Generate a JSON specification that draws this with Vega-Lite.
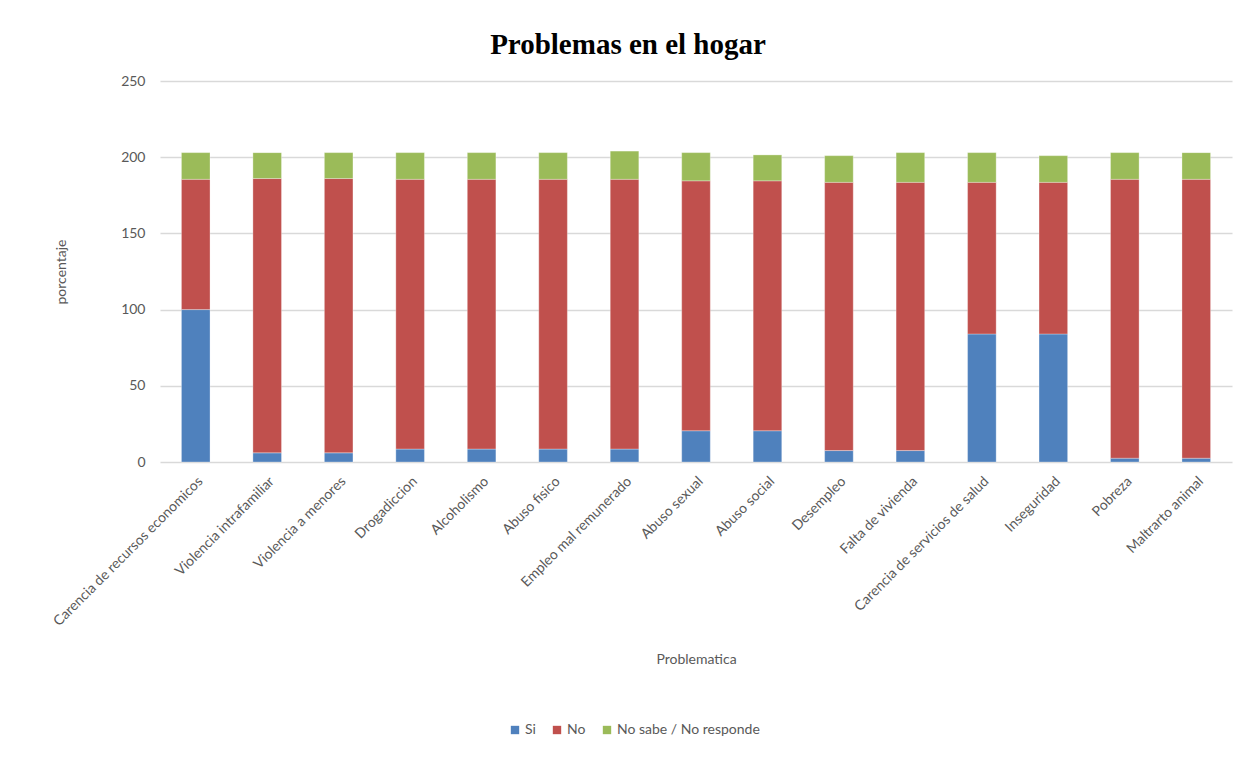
{
  "$schema": "https://vega.github.io/schema/vega-lite/v6.json",
  "autosize": "none",
  "width": 1072,
  "height": 381,
  "padding": {"left": 160, "top": 81, "right": 20, "bottom": 299},
  "background": "white",
  "title": {
    "text": "Problemas en el hogar",
    "font": "Liberation Serif",
    "fontSize": 29,
    "fontWeight": "bold",
    "color": "#000000",
    "anchor": "middle",
    "dx": -68,
    "offset": 14
  },
  "data": {
    "values": [
      {"problema": "Carencia de recursos economicos", "serie": "Si", "orden": 1, "valor": 100},
      {"problema": "Carencia de recursos economicos", "serie": "No", "orden": 2, "valor": 85.5},
      {"problema": "Carencia de recursos economicos", "serie": "No sabe / No responde", "orden": 3, "valor": 17.5},
      {"problema": "Violencia intrafamiliar", "serie": "Si", "orden": 1, "valor": 6},
      {"problema": "Violencia intrafamiliar", "serie": "No", "orden": 2, "valor": 180},
      {"problema": "Violencia intrafamiliar", "serie": "No sabe / No responde", "orden": 3, "valor": 17},
      {"problema": "Violencia a menores", "serie": "Si", "orden": 1, "valor": 6},
      {"problema": "Violencia a menores", "serie": "No", "orden": 2, "valor": 180},
      {"problema": "Violencia a menores", "serie": "No sabe / No responde", "orden": 3, "valor": 17},
      {"problema": "Drogadiccion", "serie": "Si", "orden": 1, "valor": 8.5},
      {"problema": "Drogadiccion", "serie": "No", "orden": 2, "valor": 177},
      {"problema": "Drogadiccion", "serie": "No sabe / No responde", "orden": 3, "valor": 17.5},
      {"problema": "Alcoholismo", "serie": "Si", "orden": 1, "valor": 8.5},
      {"problema": "Alcoholismo", "serie": "No", "orden": 2, "valor": 177},
      {"problema": "Alcoholismo", "serie": "No sabe / No responde", "orden": 3, "valor": 17.5},
      {"problema": "Abuso fisico", "serie": "Si", "orden": 1, "valor": 8.5},
      {"problema": "Abuso fisico", "serie": "No", "orden": 2, "valor": 177},
      {"problema": "Abuso fisico", "serie": "No sabe / No responde", "orden": 3, "valor": 17.5},
      {"problema": "Empleo mal remunerado", "serie": "Si", "orden": 1, "valor": 8.5},
      {"problema": "Empleo mal remunerado", "serie": "No", "orden": 2, "valor": 177},
      {"problema": "Empleo mal remunerado", "serie": "No sabe / No responde", "orden": 3, "valor": 18.5},
      {"problema": "Abuso sexual", "serie": "Si", "orden": 1, "valor": 20.5},
      {"problema": "Abuso sexual", "serie": "No", "orden": 2, "valor": 164},
      {"problema": "Abuso sexual", "serie": "No sabe / No responde", "orden": 3, "valor": 18.5},
      {"problema": "Abuso social", "serie": "Si", "orden": 1, "valor": 20.5},
      {"problema": "Abuso social", "serie": "No", "orden": 2, "valor": 164},
      {"problema": "Abuso social", "serie": "No sabe / No responde", "orden": 3, "valor": 17},
      {"problema": "Desempleo", "serie": "Si", "orden": 1, "valor": 7.5},
      {"problema": "Desempleo", "serie": "No", "orden": 2, "valor": 176},
      {"problema": "Desempleo", "serie": "No sabe / No responde", "orden": 3, "valor": 17.5},
      {"problema": "Falta de vivienda", "serie": "Si", "orden": 1, "valor": 7.5},
      {"problema": "Falta de vivienda", "serie": "No", "orden": 2, "valor": 176},
      {"problema": "Falta de vivienda", "serie": "No sabe / No responde", "orden": 3, "valor": 19.5},
      {"problema": "Carencia de servicios de salud", "serie": "Si", "orden": 1, "valor": 84},
      {"problema": "Carencia de servicios de salud", "serie": "No", "orden": 2, "valor": 99.5},
      {"problema": "Carencia de servicios de salud", "serie": "No sabe / No responde", "orden": 3, "valor": 19.5},
      {"problema": "Inseguridad", "serie": "Si", "orden": 1, "valor": 84},
      {"problema": "Inseguridad", "serie": "No", "orden": 2, "valor": 99.5},
      {"problema": "Inseguridad", "serie": "No sabe / No responde", "orden": 3, "valor": 17.5},
      {"problema": "Pobreza", "serie": "Si", "orden": 1, "valor": 2.5},
      {"problema": "Pobreza", "serie": "No", "orden": 2, "valor": 183},
      {"problema": "Pobreza", "serie": "No sabe / No responde", "orden": 3, "valor": 17.5},
      {"problema": "Maltrarto animal", "serie": "Si", "orden": 1, "valor": 2.5},
      {"problema": "Maltrarto animal", "serie": "No", "orden": 2, "valor": 183},
      {"problema": "Maltrarto animal", "serie": "No sabe / No responde", "orden": 3, "valor": 17.5}
    ]
  },
  "mark": {"type": "bar", "stroke": "#ffffff", "strokeWidth": 0.5, "strokeOpacity": 0.6},
  "encoding": {
    "x": {
      "field": "problema",
      "type": "nominal",
      "sort": null,
      "scale": {"paddingInner": 0.6, "paddingOuter": 0.3},
      "axis": {
        "title": "Problematica",
        "labelAngle": -45,
        "labelFont": "Lato",
        "labelFontSize": 14,
        "labelLimit": 400,
        "labelColor": "#595959",
        "labelPadding": 12,
        "ticks": false,
        "domain": false,
        "titleFont": "Lato",
        "titleFontSize": 14,
        "titleFontWeight": "normal",
        "titleColor": "#595959",
        "titlePadding": 24
      }
    },
    "y": {
      "field": "valor",
      "type": "quantitative",
      "stack": "zero",
      "scale": {"domain": [0, 250], "nice": false},
      "axis": {
        "title": "porcentaje",
        "values": [0, 50, 100, 150, 200, 250],
        "labelFont": "Lato",
        "labelFontSize": 14,
        "labelColor": "#595959",
        "labelPadding": 15,
        "ticks": false,
        "domain": false,
        "grid": true,
        "gridColor": "#D9D9D9",
        "gridWidth": 1.5,
        "titleFont": "Lato",
        "titleFontSize": 14,
        "titleFontWeight": "normal",
        "titleColor": "#595959",
        "titlePadding": 52
      }
    },
    "color": {
      "field": "serie",
      "type": "nominal",
      "scale": {
        "domain": ["Si", "No", "No sabe / No responde"],
        "range": ["#4F81BD", "#C0504D", "#9BBB59"]
      },
      "legend": {
        "title": null,
        "orient": "none",
        "direction": "horizontal",
        "legendX": 348,
        "legendY": 642,
        "symbolType": "square",
        "symbolSize": 70,
        "symbolStrokeWidth": 0,
        "labelFont": "Lato",
        "labelFontSize": 14,
        "labelColor": "#595959",
        "columnPadding": 14,
        "labelOffset": 3
      }
    },
    "order": {"field": "orden", "type": "quantitative", "sort": "ascending"}
  },
  "config": {
    "view": {"stroke": null}
  }
}
